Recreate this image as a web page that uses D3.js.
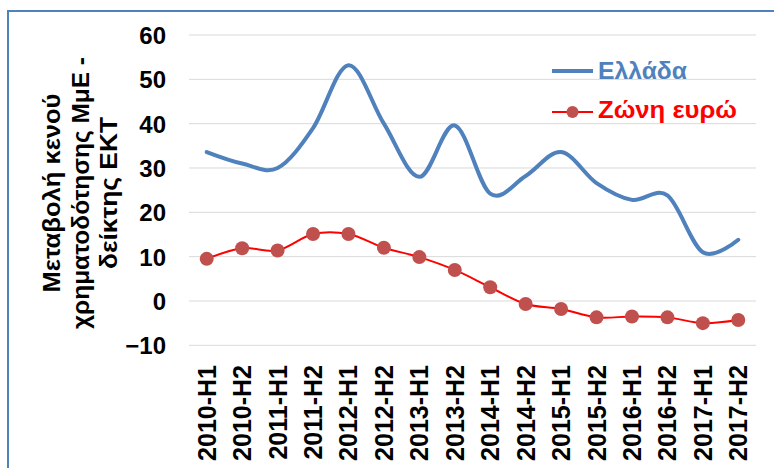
<!DOCTYPE html>
<html><head><meta charset="utf-8">
<script src="https://cdn.jsdelivr.net/npm/d3@7"></script>
<style>body{margin:0;background:#fff}svg{display:block}</style>
</head><body>
<svg id="c" width="774" height="468"></svg>
<script>
const categories = ["2010-H1","2010-H2","2011-H1","2011-H2","2012-H1","2012-H2","2013-H1","2013-H2","2014-H1","2014-H2","2015-H1","2015-H2","2016-H1","2016-H2","2017-H1","2017-H2"];
const greece = [33.6, 31.0, 30.0, 39.0, 53.2, 40.0, 28.0, 39.6, 24.2, 28.2, 33.6, 26.6, 22.8, 23.8, 11.0, 13.8];
const euroArea = [9.5, 11.9, 11.4, 15.1, 15.1, 12.0, 9.9, 7.0, 3.1, -0.7, -1.8, -3.7, -3.5, -3.7, -5.0, -4.3];
const yTicks = [-10, 0, 10, 20, 30, 40, 50, 60];
const seriesNames = ["Ελλάδα", "Ζώνη ευρώ"];
const yTitle = ["Μεταβολή κενού", "χρηματοδότησης ΜμΕ -", "δείκτης ΕΚΤ"];

const svg = d3.select("#c");
const font = "'Liberation Sans', Arial, sans-serif";

// frame
svg.append("rect").attr("x", 8).attr("y", 11).attr("width", 800).attr("height", 500)
  .attr("fill", "none").attr("stroke", "#4F81BD").attr("stroke-width", 2);

const x = d3.scaleBand().domain(categories).range([189, 756]);
const y = d3.scaleLinear().domain([-10, 60]).range([345.3, 35]);
const cx = d => x(d) + x.bandwidth() / 2;

// gridlines
svg.append("g").selectAll("line").data(yTicks).join("line")
  .attr("x1", 189).attr("x2", 756)
  .attr("y1", d => y(d)).attr("y2", d => y(d))
  .attr("stroke", "#D9D9D9").attr("stroke-width", 1);

// y axis
const yAxis = svg.append("g").attr("transform", "translate(166,0)")
  .call(d3.axisLeft(y).tickValues(yTicks).tickSize(0).tickPadding(0).tickFormat(d3.format("d")));
yAxis.select(".domain").remove();
yAxis.selectAll("text").attr("font-family", font).attr("font-weight", "bold")
  .attr("font-size", 24).attr("fill", "#000").attr("dy", "0.36em");

// x axis
const xAxis = svg.append("g").attr("transform", "translate(0,365)")
  .call(d3.axisBottom(x).tickSize(0).tickPadding(0));
xAxis.select(".domain").remove();
xAxis.selectAll("text").attr("font-family", font).attr("font-weight", "bold")
  .attr("font-size", 25).attr("fill", "#000")
  .attr("transform", "rotate(-90)").attr("text-anchor", "end")
  .attr("x", 0).attr("y", 0).attr("dy", "0.36em");

// y title
const titleLen = [199, 272, 152];
const titleBase = [60, 88.5, 117];
yTitle.forEach((s, i) => {
  svg.append("text").attr("transform", `translate(${titleBase[i]},193) rotate(-90)`)
    .attr("text-anchor", "middle").attr("font-family", font).attr("font-weight", "bold")
    .attr("font-size", 23.5).attr("fill", "#000")
    .attr("textLength", titleLen[i]).attr("lengthAdjust", "spacingAndGlyphs")
    .text(s);
});

const curve = d3.curveCardinal.tension(0);
const line = d3.line().x((d, i) => cx(categories[i])).y(d => y(d)).curve(curve);

svg.append("path").datum(greece).attr("d", line).attr("fill", "none")
  .attr("stroke", "#4F81BD").attr("stroke-width", 4).attr("stroke-linecap", "round");

svg.append("path").datum(euroArea).attr("d", line).attr("fill", "none")
  .attr("stroke", "#FF0000").attr("stroke-width", 2);
svg.append("g").selectAll("circle").data(euroArea).join("circle")
  .attr("cx", (d, i) => cx(categories[i])).attr("cy", d => y(d)).attr("r", 7)
  .attr("fill", "#C0504D");

// legend
const lg = svg.append("g");
lg.append("line").attr("x1", 552).attr("x2", 593).attr("y1", 71).attr("y2", 71)
  .attr("stroke", "#4F81BD").attr("stroke-width", 4);
lg.append("text").attr("x", 598).attr("y", 79).attr("font-family", font).attr("font-weight", "bold")
  .attr("font-size", 23).attr("fill", "#4F81BD")
  .attr("textLength", 89).attr("lengthAdjust", "spacingAndGlyphs").text(seriesNames[0]);
lg.append("line").attr("x1", 552).attr("x2", 593).attr("y1", 112).attr("y2", 112)
  .attr("stroke", "#FF0000").attr("stroke-width", 2);
lg.append("circle").attr("cx", 572.5).attr("cy", 112).attr("r", 6).attr("fill", "#C0504D");
lg.append("text").attr("x", 598).attr("y", 118).attr("font-family", font).attr("font-weight", "bold")
  .attr("font-size", 23).attr("fill", "#FF0000")
  .attr("textLength", 139).attr("lengthAdjust", "spacingAndGlyphs").text(seriesNames[1]);
</script>
</body></html>
